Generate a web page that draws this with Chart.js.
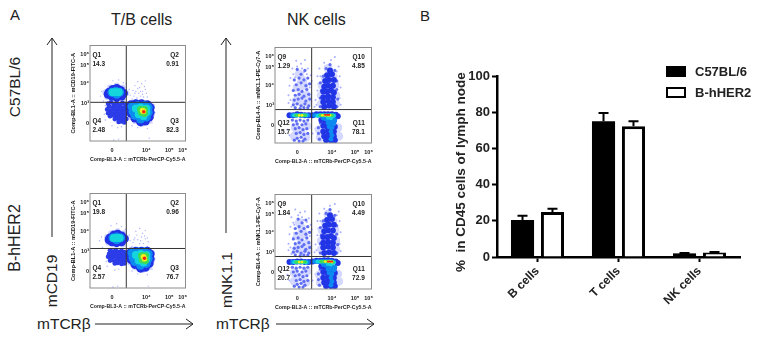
<!DOCTYPE html>
<html>
<head>
<meta charset="utf-8">
<title>T/B and NK cells in lymph node</title>
<script src="https://cdn.jsdelivr.net/npm/chart.js@4"></script>
<style>
	html, body { margin: 0; padding: 0; background: #fff; }
	body { position: relative; width: 767px; height: 350px; overflow: hidden; font-family: "Liberation Sans", Arial, sans-serif; color: #222; }
	canvas { position: absolute; }
	canvas.flow { filter: blur(0.45px); }
	svg { position: absolute; left: 0; top: 0; }
	.lbl { position: absolute; white-space: nowrap; line-height: 1; }
	.rot { transform: translate(-50%, -50%) rotate(-90deg); }
	.box { position: absolute; left: 666px; width: 20px; height: 11px; box-sizing: border-box; border: 2.5px solid #000; }
</style>
</head>
<body>
<div class="lbl" style="left:10px;top:7px;font-size:15px">A</div>
<div class="lbl" style="left:420px;top:8px;font-size:15px">B</div>
<div class="lbl" style="left:111px;top:12px;font-size:16px">T/B cells</div>
<div class="lbl" style="left:287px;top:12px;font-size:16px">NK cells</div>
<div class="lbl rot" style="left:15px;top:87px;font-size:15.5px">C57BL/6</div>
<div class="lbl rot" style="left:15px;top:238px;font-size:16px">B-hHER2</div>
<div class="lbl rot" style="left:52px;top:281px;font-size:15.5px">mCD19</div>
<div class="lbl rot" style="left:227px;top:280px;font-size:15.5px">mNK1.1</div>
<div class="lbl" style="left:37px;top:316px;font-size:15.5px">mTCRβ</div>
<div class="lbl" style="left:216px;top:316px;font-size:15.5px">mTCRβ</div>
<svg width="767" height="350" fill="none" stroke="#222" stroke-width="1">
	<path d="M52 237V38M47 45L52 38L57 45"/>
	<path d="M226 233V38M221 45L226 38L231 45"/>
	<path d="M95 324H193M186 319L193 324L186 329"/>
	<path d="M276 324H374M367 319L374 324L367 329"/>
</svg>

<canvas class="flow" id="tbTop" width="126" height="122" style="left:64px;top:41px"></canvas>
<canvas class="flow" id="nkTop" width="127" height="122" style="left:249px;top:43px"></canvas>
<canvas class="flow" id="tbBottom" width="126" height="121" style="left:64px;top:189px"></canvas>
<canvas class="flow" id="nkBottom" width="127" height="121" style="left:249px;top:190px"></canvas>
<canvas id="barChart" width="317" height="290" style="left:450px;top:60px"></canvas>

<div class="box" style="top:66px;background:#000"></div>
<div class="box" style="top:87px;background:#fff"></div>
<div class="lbl" style="left:695px;top:65px;font-size:13px;font-weight:bold">C57BL/6</div>
<div class="lbl" style="left:695px;top:86px;font-size:13px;font-weight:bold">B-hHER2</div>

<script>
// bar chart values
const cellTypes = ["B cells", "T cells", "NK cells"];
const c57Means = [20.4, 75, 2];
const c57Tops = [22.8, 79.5, 2.2];
const herMeans = [24.8, 72.2, 2.5];
const herTops = [26.7, 75, 2.7];

// flow plot axis ticks, in percent of the plot width / height
const flowXTicks = [23, 59, 83, 97];
const flowXLabels = ["0", "10⁴", "10⁵", "10⁶"];
const flowYTicks = [18, 39, 60, 79, 91];
const flowYLabels = ["0", "10³", "10⁴", "10⁵", "10⁶"];

const tbXTitle = "Comp-BL3-A :: mTCRb-PerCP-Cy5.5-A";
const tbYTitle = "Comp-BL1-A :: mCD19-FITC-A";
const nkYTitle = "Comp-BL4-A :: mNK1.1-PE-Cy7-A";

// quadrant text for each plot: top-left, top-right, bottom-right, bottom-left
const tbTopQuads = ["Q1", "14.3", "Q2", "0.91", "Q3", "82.3", "Q4", "2.48"];
const nkTopQuads = ["Q9", "1.29", "Q10", "4.85", "Q11", "78.1", "Q12", "15.7"];
const tbBottomQuads = ["Q1", "19.8", "Q2", "0.96", "Q3", "76.7", "Q4", "2.57"];
const nkBottomQuads = ["Q9", "1.84", "Q10", "4.49", "Q11", "72.9", "Q12", "20.7"];

const tbTopGate = [38, 40.5];
const nkTopGate = [38, 35];
const tbBottomGate = [38, 41.8];
const nkBottomGate = [38, 34.4];

// event densities, percent of plot, coolest level first
const tbTopSparse = [[47,58],[50,62],[52,56],[54,60],[48,52],[51,50],[55,52],[57,57],[59,50],[53,47],[46,47],[49,45],[56,46],[60,46],[44,44],[58,63],[30,64],[24,63],[35,61],[12,52],[11,47],[14,42],[16,37],[15,28],[16,22],[38,60],[42,48],[41,54],[67,38],[68,30],[65,19],[60,13],[50,14],[44,16],[29,14],[33,15],[23,16],[62,3],[30,2],[25,1],[50,55],[53,52],[47,50],[55,49],[58,54],[45,53]];
const tbTopPale = [[16,51],[21,56],[28,58],[34,56],[38,50],[34,44],[25,44],[18,46],[65,36],[65,28],[62,21],[55,18],[47,21],[42,25]];
const tbTopMid = [[19,39],[22,40.5],[25,38],[28,40],[31,37.5],[34,40],[37,38],[20,36],[23.5,35],[26,36.5],[29,35],[32,36],[35,34.5],[38,35],[18,33],[21,31.5],[24,33],[27,32],[30,33.5],[33,32],[36,32.5],[19,29],[22,30],[25.5,28.5],[28,30],[31,29],[34,30],[37,29],[21,26],[24,27],[27,25.5],[30,27],[33,26],[36,26.5],[26,23],[29,24],[32,22.5],[35,23],[38,23],[30,20],[33,20.5],[36,19.5]];
const tbTopBlue = [[20,51],[24,54],[28,55],[32,53],[35,50],[33,47],[28,46],[23,47],[19,49],[43,38],[48,39],[54,39],[60,38],[63,35],[63,30],[62,25],[58,21],[53,20],[47,24],[43,29],[42,34]];
const tbTopAzure = [[23,51],[27,52],[31,51],[28,49],[44,36],[50,37],[57,37],[61,35],[61,30],[59,25],[53,23],[47,27],[45,31]];
const tbTopCyan = [[24,51],[27,51],[30,51],[48,34],[53,35],[59,34],[59,30],[56,26],[51,28]];
const tbTopGreen = [[53,33],[57,33],[57,29],[54,30]];
const tbTopYellow = [[56,31],[55,32]];
const tbTopRed = [[56.3,30.6]];

const tbBottomSparse = [[48,60],[52,63],[55,58],[58,61],[47,53],[50,51],[54,54],[58,52],[61,49],[52,47],[45,48],[56,47],[60,44],[44,44],[28,68],[22,66],[33,65],[37,62],[12,54],[10,50],[13,43],[18,35],[17,28],[18,23],[42,50],[41,56],[67,38],[68,31],[65,20],[60,14],[50,15],[44,18],[30,20],[26,19],[61,2],[29,2],[24,1],[49,56],[53,50],[57,55],[46,51],[60,53]];
const tbBottomPale = [[18,54],[22,58],[29,60],[35,58],[38,53],[34,46],[25,46],[19,48],[65,37],[65,29],[62,22],[55,19],[47,22],[42,27]];
const tbBottomMid = [[21,40],[24,38.5],[27,40],[30,38],[33,39.5],[36,38],[20,36],[23,35.5],[26,36.5],[29,35],[32,36],[35,35],[38,36],[19,33],[22,32],[25,33.5],[28,32],[31,33],[34,32],[37,32.5],[21,29],[24,29.5],[27,28],[30,29.5],[33,29],[36,28.5],[26,26],[29,26.5],[33,25.5],[36,26]];
const tbBottomBlue = [[21,53],[25,56],[29,57],[33,55],[36,52],[33,49],[28,48],[23,49],[20,51],[43,38],[48,39],[54,39],[60,39],[63,36],[63,31],[62,26],[58,22],[53,21],[47,25],[43,30],[42,35]];
const tbBottomAzure = [[24,53],[28,54],[32,53],[28,51],[44,37],[50,38],[57,38],[61,36],[61,31],[59,26],[53,24],[47,28],[45,32]];
const tbBottomCyan = [[25,53],[28,53],[31,53],[48,35],[53,36],[59,35],[59,31],[56,27],[51,29]];
const tbBottomGreen = [[54,34],[58,34],[58,29],[55,30]];
const tbBottomYellow = [[57,31],[56,33]];
const tbBottomRed = [[57,31.5]];

const nkTopSparse = [[22,86],[27,83],[31,87],[18,78],[34,78],[16,68],[37,71],[15,60],[19,56],[36,58],[14,50],[37,49],[14,42],[17,38],[36,40],[44,70],[46,78],[51,84],[58,87],[62,90],[66,80],[67,70],[68,58],[67,47],[68,40],[44,55],[42,45],[41,38],[13,14],[15,8],[36,16],[39,10],[68,18],[68,10],[42,15],[44,6],[24,75],[30,74],[21,69],[26,66],[32,65],[20,60],[35,62],[23,80],[28,78],[33,72],[19,72],[29,70],[24,64],[38,65],[16,45],[52,80],[56,82],[64,75],[47,70],[45,62],[65,62],[46,48],[65,52],[43,40]];
const nkTopPale = [[25,72],[28,66],[23,58],[30,60],[27,50],[33,50],[22,44],[28,42],[34,43],[55,78],[52,68],[60,70],[49,60],[62,60],[48,50],[63,50],[48,41],[63,41],[21,16],[27,12],[33,18],[20,7],[32,6],[46,14],[65,16],[47,6],[66,7]];
const nkTopMid = [[23,77],[27,72],[31,76],[20,66],[25,68],[30,66],[34,68],[22,61],[27,63],[32,60],[36,62],[19,55],[24,56],[28,54],[33,56],[21,50],[25,51],[30,49],[35,51],[20,45],[24,46],[28,47],[32,44],[36,46],[19,40],[23,41],[27,39],[31,41],[35,39],[21,37],[26,36],[30,37],[34,37],[18,24],[22,23],[26,24],[30,23],[34,24],[19,19],[23,20],[28,19],[32,20],[21,15],[25,16],[29,14],[33,15],[22,10],[26,11],[30,9],[34,10],[23,5],[27,6],[31,4],[20,3],[25,2],[29,2],[50,70],[53,78],[57,82],[62,76],[47,63],[48,55],[47,47],[64,65],[64,56],[65,46],[47,38],[64,38],[47,21],[45,16],[45,10],[46,4]];
const nkTopBlue = [[57,76],[54,71],[59,72],[52,65],[56,66],[61,66],[51,59],[55,60],[60,60],[50,54],[54,54],[58,55],[61,53],[50,48],[55,49],[60,48],[50,43],[55,44],[60,43],[51,38],[56,39],[61,38],[15,29],[19,29],[23,30],[27,29.5],[31,29],[35,29],[39,29],[43,30],[47,30],[51,30],[55,30],[59,30],[63,29.5],[65,28],[48,24],[52,23],[56,23],[61,23],[50,18],[54,17],[58,18],[62,17],[50,12],[55,12],[61,12],[51,7],[55,7],[61,7],[53,3],[58,3],[62,3]];
const nkTopAzure = [[18,29],[22,29],[26,29],[30,29],[34,29],[41,29],[45,29],[49,29],[53,29],[57,29],[61,29],[50,26],[53,25],[56,25],[59,25],[62,24],[55,21],[58,21],[61,20],[56,17],[59,16],[58,12],[59,8],[58,4]];
const nkTopCyan = [[20,29],[23,29],[26,29],[29,29],[32,29],[44,28.5],[47,29],[50,29],[53,29],[56,29],[59,29],[61,28.5],[55,26.5],[58,26]];
const nkTopGreen = [[22,29],[25,29],[28,29],[31,29],[47,29],[50,29],[53,29],[56,29],[59,29]];
const nkTopYellow = [[25,29],[28,29],[49,29],[52,29],[55,29],[57,29]];
const nkTopRed = [[52,29.5],[54,29.5],[56,29.5]];

const nkBottomSparse = [[21,84],[26,81],[31,82],[17,76],[35,75],[16,66],[37,68],[15,58],[19,54],[36,56],[14,48],[37,46],[14,41],[17,37],[36,38],[44,72],[46,80],[51,85],[57,88],[62,90],[66,82],[67,72],[68,60],[67,48],[68,40],[44,57],[42,47],[41,39],[13,15],[15,9],[36,17],[39,9],[68,17],[68,9],[42,16],[44,5],[23,72],[29,73],[20,68],[27,64],[33,66],[20,59],[35,60],[24,78],[28,76],[33,71],[19,70],[29,68],[25,62],[38,63],[16,44],[53,82],[57,84],[64,78],[47,72],[45,64],[65,64],[46,50],[65,50],[43,41]];
const nkBottomPale = [[25,70],[28,64],[23,56],[30,58],[27,48],[33,48],[22,42],[28,40],[34,42],[55,79],[52,70],[60,72],[49,62],[62,62],[48,51],[63,51],[48,42],[63,42],[20,17],[27,13],[33,19],[20,8],[32,7],[46,15],[65,16],[47,7],[66,8]];
const nkBottomMid = [[24,74],[28,70],[32,73],[21,64],[25,66],[30,64],[34,66],[22,59],[27,61],[32,58],[36,60],[19,53],[24,54],[28,52],[33,54],[21,48],[25,49],[30,47],[35,49],[20,43],[24,44],[28,45],[32,42],[36,44],[19,39],[23,40],[27,38],[31,40],[35,38],[21,36],[26,35],[30,36],[34,36],[18,23],[22,22],[26,23],[30,22],[34,23],[19,18],[23,19],[28,18],[32,19],[21,14],[25,15],[29,13],[33,14],[22,9],[26,10],[30,8],[34,9],[23,5],[27,6],[31,4],[20,3],[25,2],[29,2],[50,72],[53,80],[57,84],[62,78],[47,65],[48,57],[47,48],[64,67],[64,58],[65,47],[47,38],[64,38],[47,21],[45,16],[45,10],[46,4]];
const nkBottomBlue = [[57,78],[54,73],[59,74],[52,67],[56,68],[61,68],[51,61],[55,62],[60,62],[50,55],[54,55],[58,56],[61,54],[50,49],[55,50],[60,49],[50,44],[55,45],[60,44],[51,38],[56,39],[61,38],[15,28.5],[19,28.5],[23,29],[27,29],[31,28.5],[35,28.5],[39,29],[43,30],[47,30],[51,30.5],[55,30.5],[59,30],[63,29],[65,27.5],[48,24],[52,23],[56,23],[61,22],[50,18],[54,17],[58,18],[62,17],[50,12],[55,12],[61,12],[51,7],[55,7],[61,7],[53,3],[58,3],[62,3]];
const nkBottomAzure = [[18,28.5],[22,28.5],[26,28.5],[30,28.5],[34,28.5],[41,29],[45,29],[49,29],[53,29],[57,29],[61,28.5],[50,26],[53,25],[56,25],[59,24],[62,23],[55,21],[58,21],[61,20],[56,17],[59,16],[58,12],[59,8],[58,4]];
const nkBottomCyan = [[20,28.5],[23,28.5],[26,28.5],[29,28.5],[32,28],[44,29],[47,29],[50,29],[53,29],[56,29],[59,29],[61,28],[55,26.5],[58,26]];
const nkBottomGreen = [[22,28.5],[25,28.5],[28,28.5],[31,28.5],[48,29],[51,29],[54,29],[57,29],[60,28.5]];
const nkBottomYellow = [[25,28.5],[28,28.5],[52,29],[55,29],[57,29],[59,28.5]];
const nkBottomRed = [[55,29],[57,29],[59,29]];

// colour and dot size of each density level
const tbLevelStyles = [
	{ color: "#a9b0ff", radius: 0.7 },
	{ color: "#cfd4ff", radius: 3 },
	{ color: "#2c3ce8", radius: 2.4 },
	{ color: "#2230e6", radius: 4.5 },
	{ color: "#0c8af0", radius: 4.5 },
	{ color: "#14d4dc", radius: 4 },
	{ color: "#3fdc50", radius: 3.6 },
	{ color: "#f2ee20", radius: 2.8 },
	{ color: "#f02a10", radius: 1.8 },
];
const nkLevelStyles = [
	{ color: "#a7aeff", radius: 1 },
	{ color: "#d5d9ff", radius: 4.5 },
	{ color: "#5f6ef2", radius: 1.6 },
	{ color: "#2235e6", radius: 3 },
	{ color: "#0c8af0", radius: 2.4 },
	{ color: "#14d4dc", radius: 2.1 },
	{ color: "#3fdc50", radius: 1.8 },
	{ color: "#f2ee20", radius: 1.4 },
	{ color: "#f02a10", radius: 1.1 },
];

Chart.defaults.font.family = '"Liberation Sans", Arial, sans-serif';
Chart.defaults.color = "#222";
Chart.defaults.animation = false;

// box and quadrant text for the flow plots
const flowDecor = {
	id: "flowDecor",
	afterDatasetsDraw(chart, args, opts) {
		const { ctx, chartArea: a, scales: { x, y } } = chart;
		ctx.save();
		ctx.strokeStyle = "#8c8c8c";
		ctx.lineWidth = 1;
		ctx.strokeRect(a.left, a.top, a.width, a.height);
		ctx.fillStyle = "#222";
		ctx.font = 'bold 6.5px "Liberation Sans"';
		ctx.textBaseline = "middle";
		const q = opts.quads;
		const put = (text, px, py, align) => {
			ctx.textAlign = align;
			ctx.fillText(text, x.getPixelForValue(px), y.getPixelForValue(py));
		};
		put(q[0], 2.5, 90, "left");
		put(q[1], 2.5, 80, "left");
		put(q[2], 93, 90, "right");
		put(q[3], 93, 80, "right");
		put(q[4], 93, 21, "right");
		put(q[5], 93, 11, "right");
		put(q[6], 2.5, 21, "left");
		put(q[7], 2.5, 11, "left");
		ctx.restore();
	},
};

function toPoints(pairs) {
	return pairs.map((p) => ({ x: p[0], y: p[1] }));
}

function flowChart(id, levels, styles, gate, quads, yTitle) {
	var datasets = levels.map((pairs, i) => ({
		data: toPoints(pairs),
		pointRadius: styles[i].radius,
		pointBackgroundColor: styles[i].color,
		pointBorderWidth: 0,
		showLine: false,
	}));
	datasets.reverse();
	// gates go on top of the events
	datasets.unshift(
		{ type: "line", data: [{ x: gate[0], y: 0 }, { x: gate[0], y: 100 }], borderColor: "#333", borderWidth: 1, pointRadius: 0 },
		{ type: "line", data: [{ x: 0, y: gate[1] }, { x: 100, y: gate[1] }], borderColor: "#333", borderWidth: 1, pointRadius: 0 }
	);
	const tickFont = { size: 5.5, weight: "bold" };
	const titleFont = { size: 5.6, weight: "bold" };
	const noPadding = (s) => {
		s.paddingTop = 0;
		s.paddingBottom = 0;
		s.paddingLeft = 0;
		s.paddingRight = 0;
	};
	return new Chart(document.getElementById(id), {
		type: "scatter",
		data: { datasets: datasets },
		plugins: [flowDecor],
		options: {
			responsive: false,
			events: [],
			layout: { padding: { top: 2, right: 4, left: 6, bottom: 0 } },
			plugins: { legend: { display: false }, tooltip: { enabled: false }, flowDecor: { quads: quads } },
			scales: {
				x: {
					min: 0,
					max: 100,
					grid: { display: false, drawTicks: false },
					border: { display: false },
					afterBuildTicks: (s) => { s.ticks = flowXTicks.map((v) => ({ value: v })); },
					ticks: { font: tickFont, padding: 6, maxRotation: 0, callback: (v) => flowXLabels[flowXTicks.indexOf(v)] },
					title: { display: true, text: tbXTitle, font: titleFont, padding: 0 },
					afterFit: (s) => { s.height = 22; noPadding(s); },
				},
				y: {
					min: 0,
					max: 100,
					grid: { display: false, drawTicks: false },
					border: { display: false },
					afterBuildTicks: (s) => { s.ticks = flowYTicks.map((v) => ({ value: v })); },
					ticks: { font: tickFont, padding: 1, callback: (v) => flowYLabels[flowYTicks.indexOf(v)] },
					title: { display: true, text: yTitle, font: titleFont, padding: 0 },
					afterFit: (s) => { s.width = 20; noPadding(s); },
				},
			},
		},
	});
}

flowChart("tbTop", [tbTopSparse, tbTopPale, tbTopMid, tbTopBlue, tbTopAzure, tbTopCyan, tbTopGreen, tbTopYellow, tbTopRed], tbLevelStyles, tbTopGate, tbTopQuads, tbYTitle);
flowChart("nkTop", [nkTopSparse, nkTopPale, nkTopMid, nkTopBlue, nkTopAzure, nkTopCyan, nkTopGreen, nkTopYellow, nkTopRed], nkLevelStyles, nkTopGate, nkTopQuads, nkYTitle);
flowChart("tbBottom", [tbBottomSparse, tbBottomPale, tbBottomMid, tbBottomBlue, tbBottomAzure, tbBottomCyan, tbBottomGreen, tbBottomYellow, tbBottomRed], tbLevelStyles, tbBottomGate, tbBottomQuads, tbYTitle);
flowChart("nkBottom", [nkBottomSparse, nkBottomPale, nkBottomMid, nkBottomBlue, nkBottomAzure, nkBottomCyan, nkBottomGreen, nkBottomYellow, nkBottomRed], nkLevelStyles, nkBottomGate, nkBottomQuads, nkYTitle);

// upper error bars with a cap
const errorBars = {
	id: "errorBars",
	beforeDatasetsDraw(chart) {
		const { ctx, scales: { y } } = chart;
		ctx.save();
		ctx.strokeStyle = "#000";
		ctx.lineWidth = 2;
		chart.data.datasets.forEach((ds, i) => {
			chart.getDatasetMeta(i).data.forEach((bar, j) => {
				const top = y.getPixelForValue(ds.errorTops[j]);
				ctx.beginPath();
				ctx.moveTo(bar.x, y.getPixelForValue(ds.data[j]));
				ctx.lineTo(bar.x, top);
				ctx.moveTo(bar.x - 5, top);
				ctx.lineTo(bar.x + 5, top);
				ctx.stroke();
			});
		});
		ctx.restore();
	},
};

new Chart(document.getElementById("barChart"), {
	type: "bar",
	data: {
		labels: cellTypes,
		datasets: [
			{ label: "C57BL/6", data: c57Means, errorTops: c57Tops, backgroundColor: "#000", borderColor: "#000", borderWidth: 0 },
			{ label: "B-hHER2", data: herMeans, errorTops: herTops, backgroundColor: "#fff", borderColor: "#000", borderWidth: 3 },
		],
	},
	plugins: [errorBars],
	options: {
		responsive: false,
		events: [],
		categoryPercentage: 0.74,
		barPercentage: 0.77,
		layout: { padding: { top: 16, right: 27, left: 3, bottom: 0 } },
		plugins: { legend: { display: false }, tooltip: { enabled: false } },
		scales: {
			x: {
				grid: { drawOnChartArea: false, offset: false, tickLength: 5, tickWidth: 2, tickColor: "#000" },
				border: { color: "#000", width: 2.5 },
				ticks: { font: { size: 12, weight: "bold" }, color: "#222", minRotation: 45, maxRotation: 45, padding: 2 },
				afterFit: (s) => { s.height = 93; },
			},
			y: {
				min: 0,
				max: 100,
				grid: { drawOnChartArea: false, tickLength: 5, tickWidth: 2, tickColor: "#000" },
				border: { color: "#000", width: 2.5 },
				ticks: { stepSize: 20, font: { size: 13, weight: "bold" }, color: "#222", padding: 2 },
				title: { display: true, text: "%  in CD45 cells of lymph node   ", font: { size: 13.5, weight: "bold" }, color: "#222", padding: 0 },
				afterFit: (s) => { s.width = 44; },
			},
		},
	},
});
</script>
</body>
</html>
